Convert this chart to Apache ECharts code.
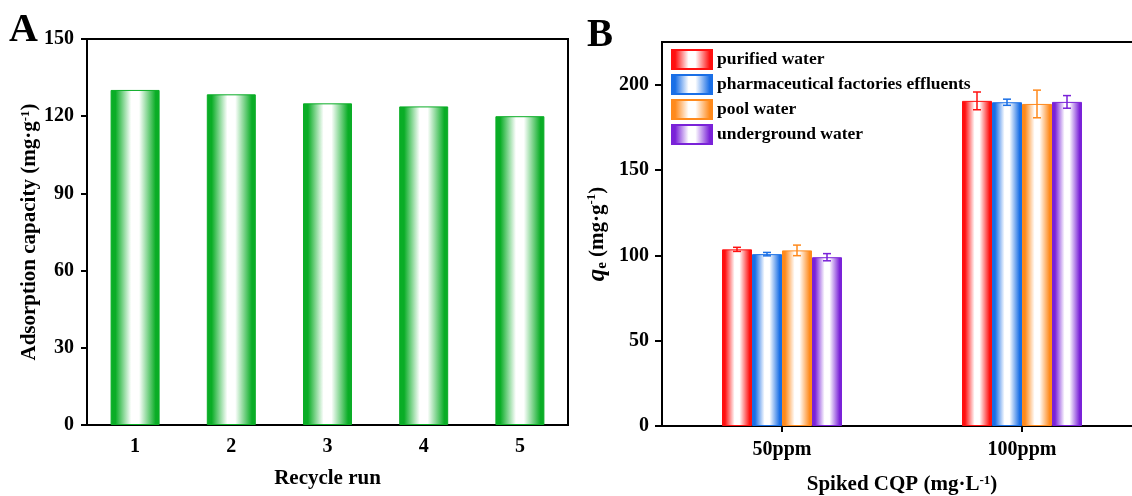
<!DOCTYPE html>
<html><head><meta charset="utf-8">
<script src="https://cdn.jsdelivr.net/npm/echarts@6/dist/echarts.min.js"></script>
<style>html,body{margin:0;padding:0;background:#fff}#c{width:1132px;height:496px}</style>
</head><body><div id="c"></div>
<script>
// ---------- data ----------
const recycleRuns = ['1', '2', '3', '4', '5'];
const adsorptionCapacity = [130.2, 128.5, 125.0, 123.8, 120.0];
const yTicksA = [0, 30, 60, 90, 120, 150];

const spikedLevels = ['50ppm', '100ppm'];
const waterTypes = ['purified water', 'pharmaceutical factories effluents', 'pool water', 'underground water'];
const purifiedWater = [103.5, 190.5];
const purifiedWaterErr = [1.2, 5.2];
const pharmaEffluents = [100.7, 189.7];
const pharmaEffluentsErr = [1.0, 1.8];
const poolWater = [102.9, 188.7];
const poolWaterErr = [3.1, 8.1];
const undergroundWater = [98.9, 189.9];
const undergroundWaterErr = [2.1, 3.7];
const yTicksB = [0, 50, 100, 150, 200];
const yMinorTicksB = [25, 75, 125, 175];

// ---------- styles ----------
const FONT = 'Liberation Serif';
const colorsB = ['#ff1010', '#1a6fe6', '#ff8a1c', '#7a22d8'];
const greenA = '#0aad26';
function grad(c) {
  return new echarts.graphic.LinearGradient(0, 0, 1, 0, [
    { offset: 0, color: c }, { offset: 0.1, color: c },
    { offset: 0.42, color: '#ffffff' }, { offset: 0.58, color: '#ffffff' },
    { offset: 0.92, color: c }, { offset: 1, color: c }
  ]);
}
const BAR_W_B = 30;
const tickLabel = { color: '#000', fontFamily: FONT, fontWeight: 'bold', fontSize: 20 };
const nameStyle = {
  color: '#000', fontFamily: FONT, fontWeight: 'bold', fontSize: 21,
  rich: {
    sup: { fontFamily: FONT, fontWeight: 'bold', fontSize: 13, verticalAlign: 'top', lineHeight: 13, color: '#000' },
    q: { fontFamily: FONT, fontWeight: 'bold', fontStyle: 'italic', fontSize: 25, color: '#000' },
    sub: { fontFamily: FONT, fontWeight: 'bold', fontSize: 15, verticalAlign: 'bottom', lineHeight: 13, color: '#000' }
  }
};
const axisLine = { show: true, lineStyle: { color: '#000', width: 2 } };

const seriesB = [
  [purifiedWater, purifiedWaterErr],
  [pharmaEffluents, pharmaEffluentsErr],
  [poolWater, poolWaterErr],
  [undergroundWater, undergroundWaterErr]
];

const series = [{
  type: 'bar', xAxisIndex: 0, yAxisIndex: 0, data: adsorptionCapacity, barWidth: 49,
  itemStyle: { color: grad(greenA), borderColor: greenA, borderWidth: 1 }
}];
seriesB.forEach((s, k) => {
  series.push({
    type: 'bar', name: waterTypes[k], xAxisIndex: 1, yAxisIndex: 1, data: s[0],
    barWidth: BAR_W_B, barGap: '0%',
    itemStyle: { color: grad(colorsB[k]), borderColor: colorsB[k], borderWidth: 1 }
  });
});
seriesB.forEach((s, k) => {
  series.push({
    type: 'custom', xAxisIndex: 1, yAxisIndex: 1, z: 5,
    data: s[0].map((v, i) => [i, v, s[1][i]]),
    renderItem: function (params, api) {
      const ci = api.value(0), v = api.value(1), e = api.value(2);
      const x = api.coord([ci, v])[0] + (k - 1.5) * BAR_W_B;
      const yt = api.coord([ci, v + e])[1], yb = api.coord([ci, v - e])[1];
      const st = { stroke: colorsB[k], lineWidth: 1.5 };
      return { type: 'group', children: [
        { type: 'line', shape: { x1: x, y1: yt, x2: x, y2: yb }, style: st },
        { type: 'line', shape: { x1: x - 4, y1: yt, x2: x + 4, y2: yt }, style: st },
        { type: 'line', shape: { x1: x - 4, y1: yb, x2: x + 4, y2: yb }, style: st }
      ] };
    }
  });
});

const option = {
  animation: false,
  backgroundColor: '#fff',
  grid: [
    { left: 87, top: 39, width: 481, height: 386, show: true, borderColor: '#000', borderWidth: 2, containLabel: false, outerBoundsMode: 'none' },
    { left: 662, top: 42, width: 480, height: 384, show: true, borderColor: '#000', borderWidth: 2, containLabel: false, outerBoundsMode: 'none' }
  ],
  legend: {
    data: waterTypes, orient: 'vertical', left: 666, top: 44, icon: 'rect',
    itemWidth: 40, itemHeight: 19, itemGap: 4,
    textStyle: { color: '#000', fontFamily: FONT, fontWeight: 'bold', fontSize: 17.5 }
  },
  graphic: [
    { type: 'text', left: 9, top: 11, style: { text: 'A', font: 'bold 40px "Liberation Serif"', fill: '#000' } },
    { type: 'text', left: 587, top: 16, style: { text: 'B', font: 'bold 39px "Liberation Serif"', fill: '#000' } }
  ],
  xAxis: [
    { type: 'category', gridIndex: 0, data: recycleRuns, axisLine: axisLine, axisTick: { show: false },
      axisLabel: Object.assign({ margin: 12 }, tickLabel),
      name: 'Recycle run', nameLocation: 'middle', nameGap: 43, nameTextStyle: nameStyle },
    { type: 'category', gridIndex: 1, data: spikedLevels, axisLine: axisLine,
      axisTick: { show: true, alignWithLabel: true, length: 6, lineStyle: { color: '#000', width: 2 } },
      axisLabel: Object.assign({ margin: 14 }, tickLabel),
      name: 'Spiked CQP (mg·L{sup|-1})', nameLocation: 'middle', nameGap: 48, nameTextStyle: nameStyle },
    { type: 'category', gridIndex: 1, data: spikedLevels, axisLine: { show: false },
      axisTick: { show: true, alignWithLabel: false, length: 3, interval: function (i) { return i === 1; }, lineStyle: { color: '#000', width: 2 } },
      axisLabel: { show: false } }
  ],
  yAxis: [
    { type: 'value', gridIndex: 0, min: 0, max: 150, interval: 30, splitLine: { show: false }, axisLine: axisLine,
      axisTick: { show: true, length: 6, lineStyle: { color: '#000', width: 2 }, customValues: yTicksA },
      axisLabel: Object.assign({ margin: 13, customValues: yTicksA }, tickLabel),
      name: 'Adsorption capacity (mg·g{sup|-1})', nameLocation: 'middle', nameGap: 45, nameTextStyle: nameStyle },
    { type: 'value', gridIndex: 1, min: 0, max: 225, interval: 25, splitLine: { show: false }, axisLine: axisLine,
      axisTick: { show: true, length: 7, lineStyle: { color: '#000', width: 2 }, customValues: yTicksB },
      axisLabel: Object.assign({ margin: 13, customValues: yTicksB }, tickLabel),
      name: '{q|q}{sub|e} (mg·g{sup|-1})', nameLocation: 'middle', nameGap: 52, nameTextStyle: nameStyle },
    { type: 'value', gridIndex: 1, min: 0, max: 225, interval: 25, splitLine: { show: false }, axisLine: { show: false },
      axisTick: { show: true, length: 3, lineStyle: { color: '#000', width: 2 }, customValues: yMinorTicksB },
      axisLabel: { show: false } }
  ],
  series: series
};
const chart = echarts.init(document.getElementById('c'), null, { renderer: 'canvas' });
chart.setOption(option);
</script></body></html>
